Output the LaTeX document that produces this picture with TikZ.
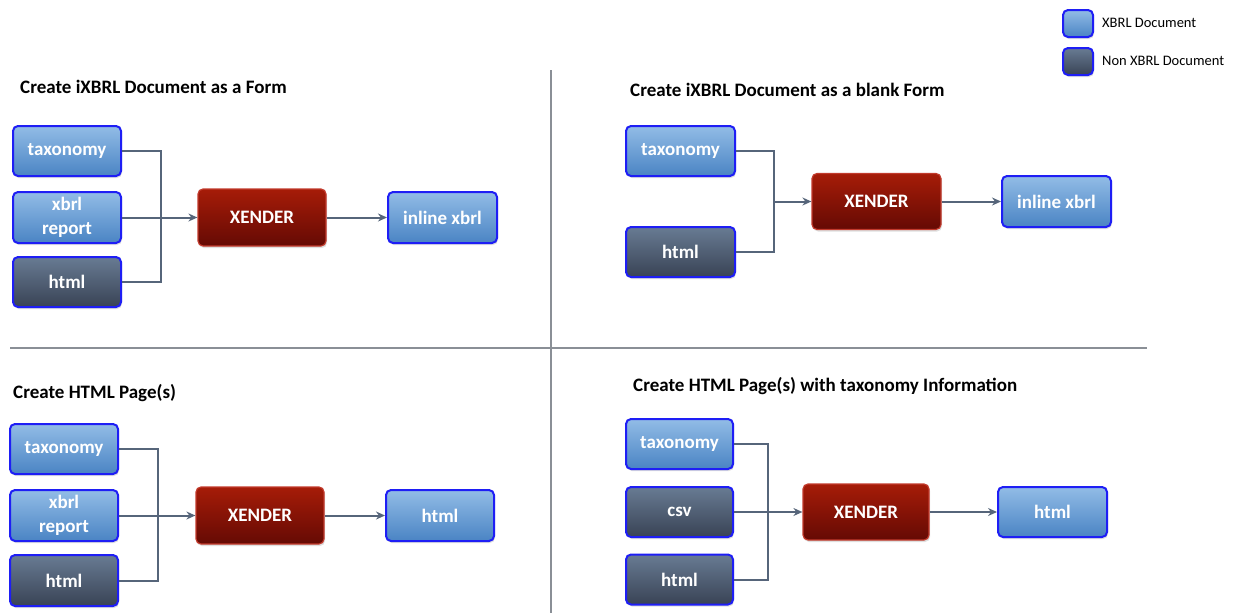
\documentclass[tikz,border=0pt]{standalone}
\usepackage{fontspec}
\setmainfont{Carlito}
\usetikzlibrary{arrows.meta,shadows}
\definecolor{xbTop}{HTML}{92BCE6}
\definecolor{xbBot}{HTML}{4A84C4}
\definecolor{nxTop}{HTML}{687B93}
\definecolor{nxBot}{HTML}{394355}
\definecolor{rdTop}{HTML}{A61C08}
\definecolor{rdBot}{HTML}{650A04}
\definecolor{rdBorder}{HTML}{C23A2C}
\definecolor{bdBlue}{HTML}{1E1EF5}
\definecolor{conn}{HTML}{56657A}
\definecolor{divider}{HTML}{8A8F96}
\tikzset{
  base/.style={rounded corners=5pt, line width=2pt, text=white,
    font=\fontsize{19}{24}\selectfont\bfseries, align=center, inner sep=0pt,
    drop shadow={opacity=0.25, shadow xshift=1pt, shadow yshift=-2pt}},
  xdoc/.style={base, draw=bdBlue, top color=xbTop, bottom color=xbBot},
  ndoc/.style={base, draw=bdBlue, top color=nxTop, bottom color=nxBot},
  engine/.style={base, draw=rdBorder, line width=1.2pt, top color=rdTop, bottom color=rdBot},
  title/.style={anchor=west, font=\fontsize{19}{22}\selectfont\bfseries, text=black, inner sep=0pt},
  legtext/.style={anchor=west, font=\fontsize{14.5}{17}\selectfont, text=black, inner sep=0pt},
  link/.style={draw=conn, line width=2pt},
  arr/.style={link, -{Stealth[length=9pt,width=8pt]}},
  div/.style={draw=divider, line width=1.2pt}
}
\begin{document}
\begin{tikzpicture}[x=1pt,y=-1pt]
\useasboundingbox (0,0) rectangle (1238,613);
% dividers
\coordinate (vT) at (551,70); \coordinate (vB) at (551,613);
\coordinate (hL) at (10,348); \coordinate (hR) at (1147,348);
\draw[div] (vT) -- (vB);
\draw[div] (hL) -- (hR);
% legend
\node[xdoc, minimum width=30pt, minimum height=27pt] (lg1) at (1078,23.5) {};
\node[ndoc, minimum width=30pt, minimum height=27pt] (lg2) at (1078,61.5) {};
\node[legtext] (lt1) at (1102,23) {XBRL Document};
\node[legtext] (lt2) at (1102,61) {Non XBRL Document};

% panel 1
\node[title] (t1) at (20,87) {Create iXBRL Document as a Form};
\node[xdoc, minimum width=108pt, minimum height=50pt] (p1tax) at (67,151) {taxonomy};
\node[xdoc, minimum width=108pt, minimum height=51pt] (p1xb) at (67,217.5) {xbrl\\report};
\node[ndoc, minimum width=108pt, minimum height=50pt] (p1ht) at (67,282) {html};
\node[engine, minimum width=128pt, minimum height=57pt] (p1x) at (262,217.5) {XENDER};
\node[xdoc, minimum width=109pt, minimum height=51pt] (p1o) at (442.5,217.5) {inline xbrl};
\coordinate (p1j) at (161,151);
\draw[link] (p1tax.east) -- (p1j) |- (p1ht.east);
\draw[arr] (p1xb.east) -- (p1x.west);
\draw[arr] (p1x.east) -- (p1o.west);

% panel 2
\node[title] (t2) at (630,90) {Create iXBRL Document as a blank Form};
\node[xdoc, minimum width=109pt, minimum height=50pt] (p2tax) at (680.5,151) {taxonomy};
\node[ndoc, minimum width=109pt, minimum height=50pt] (p2ht) at (680.5,252) {html};
\node[engine, minimum width=129pt, minimum height=56pt] (p2x) at (876.5,201.5) {XENDER};
\node[xdoc, minimum width=109pt, minimum height=51pt] (p2o) at (1056.5,201.5) {inline xbrl};
\coordinate (p2j) at (774,151);
\coordinate (p2m) at (774,201.5);
\draw[link] (p2tax.east) -- (p2j) |- (p2ht.east);
\draw[arr] (p2m) -- (p2x.west);
\draw[arr] (p2x.east) -- (p2o.west);

% panel 3
\node[title] (t3) at (13,393) {Create HTML Page(s)};
\node[xdoc, minimum width=108pt, minimum height=50pt] (p3tax) at (64,449) {taxonomy};
\node[xdoc, minimum width=108pt, minimum height=51pt] (p3xb) at (64,515.5) {xbrl\\report};
\node[ndoc, minimum width=108pt, minimum height=51pt] (p3ht) at (64,580.5) {html};
\node[engine, minimum width=128pt, minimum height=57pt] (p3x) at (260,515.5) {XENDER};
\node[xdoc, minimum width=108pt, minimum height=51pt] (p3o) at (440,515.5) {html};
\coordinate (p3j) at (158,449);
\draw[link] (p3tax.east) -- (p3j) |- (p3ht.east);
\draw[arr] (p3xb.east) -- (p3x.west);
\draw[arr] (p3x.east) -- (p3o.west);

% panel 4
\node[title] (t4) at (633,386) {Create HTML Page(s) with taxonomy Information};
\node[xdoc, minimum width=107pt, minimum height=50pt] (p4tax) at (679.5,444) {taxonomy};
\node[ndoc, minimum width=107pt, minimum height=50pt] (p4csv) at (679.5,512) {csv};
\node[ndoc, minimum width=107pt, minimum height=50pt] (p4ht) at (679.5,579.5) {html};
\node[engine, minimum width=126pt, minimum height=56pt] (p4x) at (866,512) {XENDER};
\node[xdoc, minimum width=109pt, minimum height=50pt] (p4o) at (1052.5,512) {html};
\coordinate (p4j) at (768,444);
\draw[link] (p4tax.east) -- (p4j) |- (p4ht.east);
\draw[arr] (p4csv.east) -- (p4x.west);
\draw[arr] (p4x.east) -- (p4o.west);
\end{tikzpicture}
\end{document}
